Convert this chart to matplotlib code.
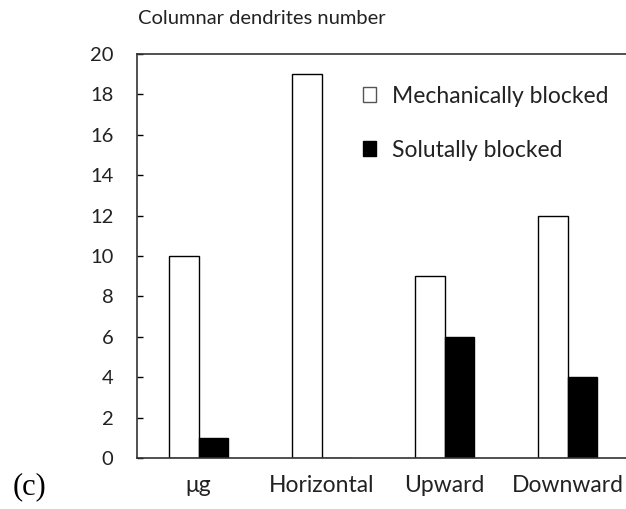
import numpy as np
import matplotlib.pyplot as plt
from matplotlib.patches import Patch

categories = ['μg', 'Horizontal', 'Upward', 'Downward']
mechanical = [10, 19, 9, 12]
solutal = [1, 0, 6, 4]
yticks = list(range(0, 21, 2))

plt.rcParams['font.family'] = ['Lato', 'DejaVu Sans']
txt = '#222222'

fig = plt.figure(figsize=(6.26, 5.09), dpi=100)
# axis runs slightly past the right edge of the figure, like the original
ax = fig.add_axes([137 / 626, 1 - 458 / 509, (629 - 137) / 626, (458 - 54) / 509])

x = np.arange(len(categories))
w = 0.24
ax.bar(x - w / 2, mechanical, w, color='white', edgecolor='black', linewidth=1.0)
ax.bar(x + w / 2, solutal, w, color='black', edgecolor='black', linewidth=1.0)

ax.set_xlim(-0.5, 3.5)
ax.set_ylim(0, 20)
ax.set_yticks(yticks)
ax.set_xticks(x)
ax.set_xticklabels(categories, fontsize=16.5, color=txt)
ax.tick_params(axis='y', direction='in', length=4, width=1, labelsize=14.5,
               labelcolor=txt, pad=17)
ax.tick_params(axis='x', length=0, pad=12)

for side in ['left', 'top', 'bottom']:
    ax.spines[side].set_color('#333333')
    ax.spines[side].set_linewidth(1.2)
ax.spines['right'].set_visible(False)

fig.text(138 / 626, 1 - 18 / 509, 'Columnar dendrites number', fontsize=14.5,
         color=txt, va='center', ha='left')
fig.text(13 / 626, 1 - 487 / 509, '(c)', fontsize=22, family='Liberation Serif',
         color='black', va='center', ha='left')

handles = [Patch(facecolor='white', edgecolor='#555555', linewidth=1.0),
           Patch(facecolor='black', edgecolor='black')]
fig.legend(handles, ['Mechanically blocked', 'Solutally blocked'],
           loc='upper left', bbox_to_anchor=(342 / 626, 1 - 65 / 509),
           frameon=False, fontsize=16.5, handlelength=0.6, handleheight=0.6,
           handletextpad=0.7, labelspacing=1.45, labelcolor=txt)

fig.savefig('out.png', dpi=100)
